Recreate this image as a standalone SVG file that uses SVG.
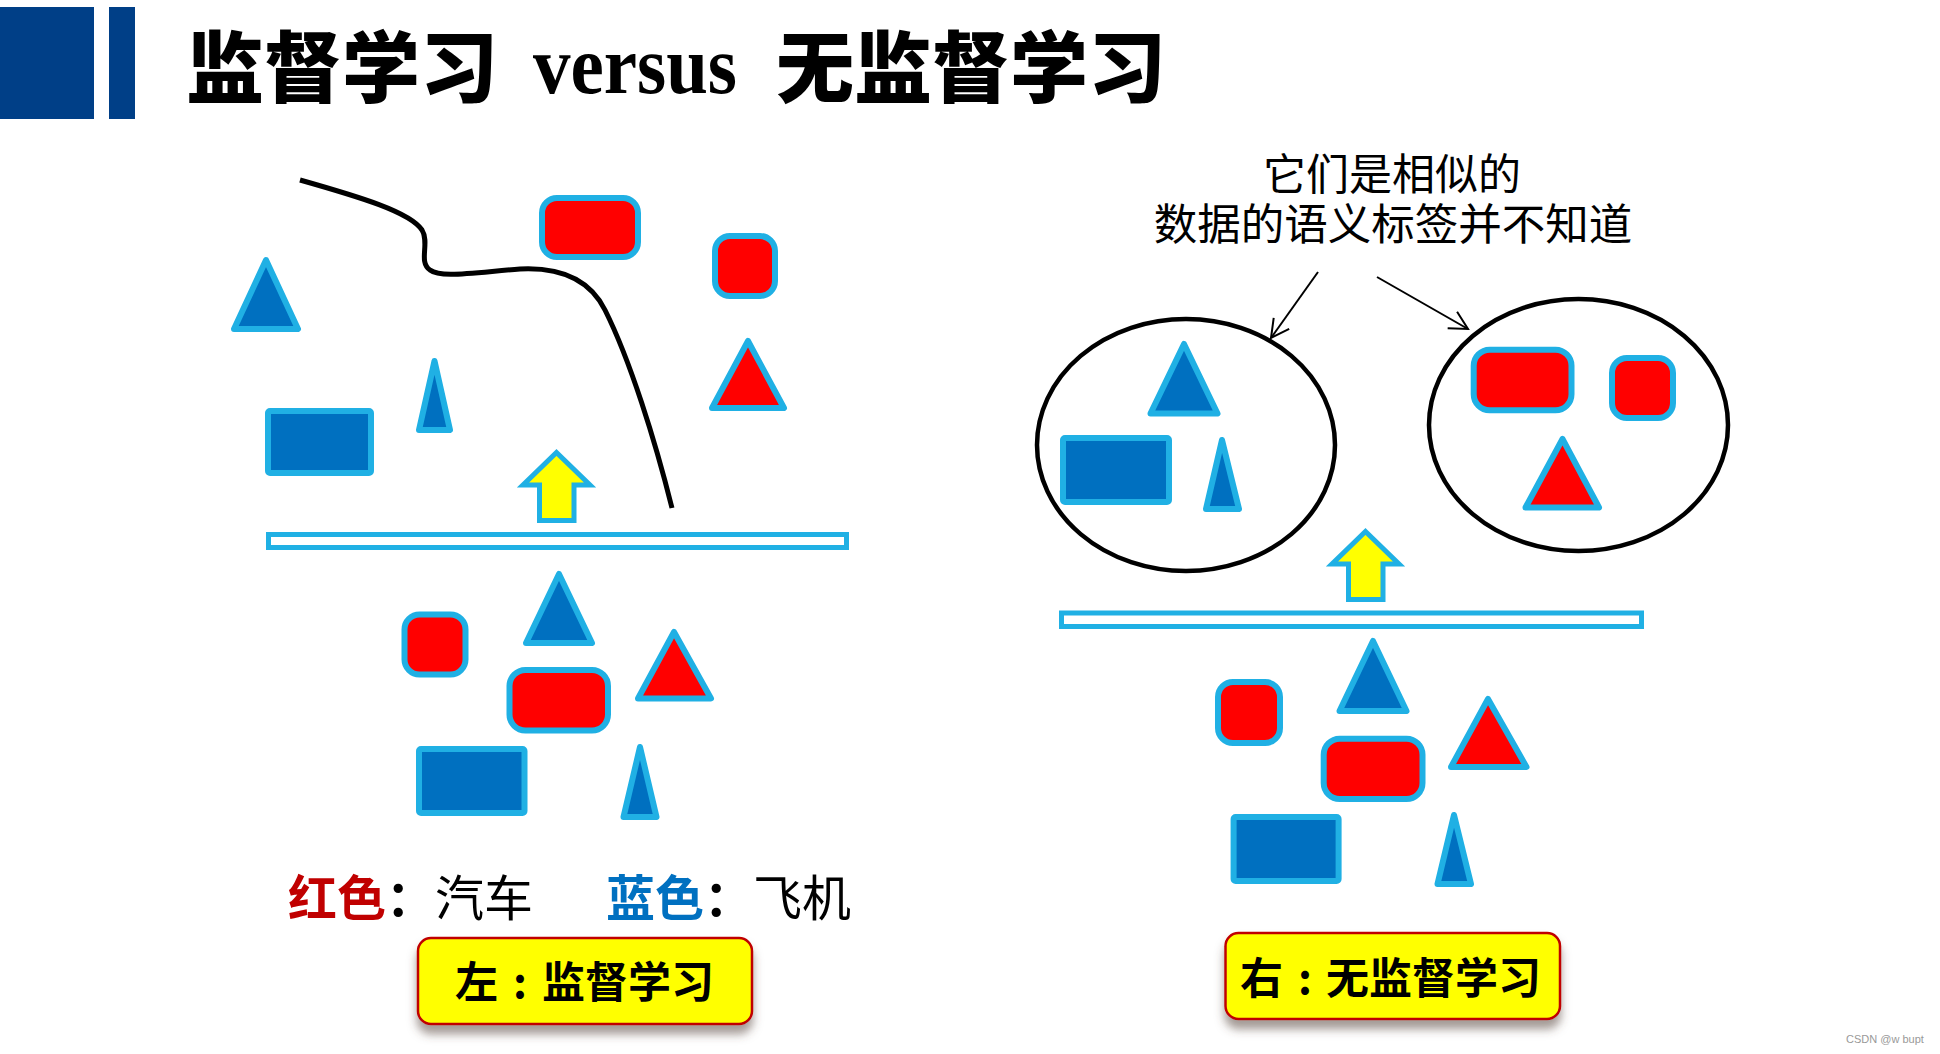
<svg xmlns="http://www.w3.org/2000/svg" width="1940" height="1054" viewBox="0 0 1940 1054">
<defs>
<style>
.bl{fill:#0070C0;stroke:#20B0E4;stroke-width:6;stroke-linejoin:round}
.rd{fill:#FF0000;stroke:#20B0E4;stroke-width:6;stroke-linejoin:round}
.ya{fill:#FFFF00;stroke:#20B0E4;stroke-width:5;stroke-linejoin:miter}
.bar{fill:#FFFFFF;stroke:#20B0E4;stroke-width:5}
.cl{fill:none;stroke:#000;stroke-width:4.5}
.cjk{font-family:"Noto Sans CJK SC","Noto Sans",sans-serif}
.box{fill:#FFFF00;stroke:#C00000;stroke-width:2.5}
.con{fill:none;stroke:#000;stroke-width:2}
.bt{font-family:"Noto Sans CJK SC","Noto Sans",sans-serif;font-size:43px;font-weight:700;fill:#000}
</style>
<filter id="sh" x="-10%" y="-20%" width="120%" height="160%">
<feDropShadow dx="0" dy="9" stdDeviation="5" flood-color="#5a4a40" flood-opacity="0.55"/>
</filter>
<marker id="ah" markerUnits="userSpaceOnUse" viewBox="-21 -12 23 24" refX="0" refY="0" markerWidth="23" markerHeight="24" orient="auto">
<path d="M-18,-9.5 L0,0 L-18,9.5" fill="none" stroke="#000" stroke-width="2"/>
</marker>
<path id="up" d="M0,0 L33.5,32.5 L17.5,32.5 L17.5,68 L-17,68 L-17,32.5 L-33.5,32.5 Z"/>
</defs>
<rect width="1940" height="1054" fill="#FFFFFF"/>

<g id="header">
<rect x="0" y="7" width="94" height="112" fill="#003F87"/>
<rect x="109" y="7" width="26" height="112" fill="#003F87"/>
<text class="cjk" x="186" y="97" font-size="78" font-weight="900" fill="#000">监督学习</text>
<text x="533" y="92.5" font-family="'Liberation Serif',serif" font-size="82" font-weight="700" textLength="204" lengthAdjust="spacingAndGlyphs" fill="#000">versus</text>
<text class="cjk" x="776" y="97" font-size="78" font-weight="900" fill="#000">无监督学习</text>
</g>

<g id="left-before">
<rect id="l-redrect1" class="rd" x="542" y="198" width="96" height="59" rx="15"/>
<rect id="l-redsq1" class="rd" x="715" y="236" width="60" height="60" rx="15"/>
<polygon id="l-bluetri1" class="bl" points="266,260 298,329 234,329"/>
<polygon id="l-thintri1" class="bl" points="434.5,361 450,430 419,430"/>
<rect id="l-bluerect1" class="bl" x="268" y="411" width="103" height="62" rx="2"/>
<polygon id="l-redtri1" class="rd" points="748,341 784,408 712,408"/>
</g>

<g id="left-arrow"><use href="#up" class="ya" transform="translate(556.5,452.5)"/></g>
<g id="left-bar"><rect class="bar" x="268.5" y="534.5" width="578" height="13"/></g>

<g id="left-after">
<rect id="l-redsq2" class="rd" x="404.5" y="614.5" width="61" height="60" rx="15"/>
<polygon id="l-bluetri2" class="bl" points="559,574 592,643 526,643"/>
<rect id="l-redrect2" class="rd" x="509.5" y="670" width="98.5" height="60.5" rx="16"/>
<polygon id="l-redtri2" class="rd" points="674,632 711,698.5 638,698.5"/>
<rect id="l-bluerect2" class="bl" x="419" y="749" width="105.5" height="64" rx="2"/>
<polygon id="l-thintri2" class="bl" points="640,747 656.5,817 623.5,817"/>
</g>

<g id="legend">
<text class="cjk" x="288" y="916" font-size="49" fill="#000"><tspan font-weight="700" fill="#C00000">红色</tspan><tspan font-weight="700">：</tspan>汽车</text>
<text class="cjk" x="606" y="916" font-size="49" fill="#000"><tspan font-weight="700" fill="#0070C0">蓝色</tspan><tspan font-weight="700">：</tspan>飞机</text>
</g>

<g id="label-left">
<rect class="box" x="418" y="938" width="334" height="86" rx="13" filter="url(#sh)"/>
<text class="bt" y="998"><tspan x="455">左</tspan><tspan x="513">:</tspan><tspan x="542">监督学习</tspan></text>
</g>

<g id="note">
<text class="cjk" x="1392" y="189.5" font-size="43" text-anchor="middle" fill="#000">它们是相似的</text>
<text class="cjk" x="1393" y="240" font-size="43.5" text-anchor="middle" fill="#000">数据的语义标签并不知道</text>
</g>

<g id="cluster-blue">
<ellipse class="cl" cx="1186" cy="445" rx="149" ry="126"/>
<polygon class="bl" points="1184,344 1217.5,413.5 1150.5,413.5"/>
<rect class="bl" x="1063" y="438" width="106" height="64" rx="2"/>
<polygon class="bl" points="1222,440 1239,509 1206,509"/>
</g>

<g id="cluster-red">
<ellipse class="cl" cx="1578.5" cy="425" rx="149.5" ry="126"/>
<rect class="rd" x="1473.7" y="349.7" width="97.8" height="60.6" rx="16"/>
<rect class="rd" x="1612" y="358" width="61" height="60" rx="15"/>
<polygon class="rd" points="1562.5,439 1599,507.5 1525.5,507.5"/>
</g>

<g id="right-arrow"><use href="#up" class="ya" transform="translate(1365.5,531.5)"/></g>
<g id="right-bar"><rect class="bar" x="1061.5" y="613" width="580" height="13.5"/></g>

<g id="right-before">
<polygon class="bl" points="1373,641 1406.5,711 1339.5,711"/>
<rect class="rd" x="1218" y="682" width="62" height="61" rx="15"/>
<polygon class="rd" points="1488,699 1526.5,767 1451,767"/>
<rect class="rd" x="1323.7" y="738.7" width="98.8" height="60.3" rx="16"/>
<rect class="bl" x="1233.6" y="817" width="105" height="64" rx="2"/>
<polygon class="bl" points="1454,815 1471,884 1437.5,884"/>
</g>

<g id="label-right">
<rect class="box" x="1225.5" y="933" width="334.5" height="86" rx="13" filter="url(#sh)"/>
<text class="bt" y="994"><tspan x="1240">右</tspan><tspan x="1298">:</tspan><tspan x="1326">无监督学习</tspan></text>
</g>

<g id="connectors">
<path d="M300,180 C360,197 410,212 422,230 C430,243 418,262 430,270 C440,278 470,273 520,269 C560,267 590,280 605,310 C630,360 655,440 672,508" fill="none" stroke="#000" stroke-width="5"/>
<line class="con" x1="1318" y1="272" x2="1271" y2="338" marker-end="url(#ah)"/>
<line class="con" x1="1377" y1="277" x2="1468" y2="329" marker-end="url(#ah)"/>
</g>

<text x="1846" y="1043" font-family="'Liberation Sans',sans-serif" font-size="11" fill="#999">CSDN @w bupt</text>
</svg>
